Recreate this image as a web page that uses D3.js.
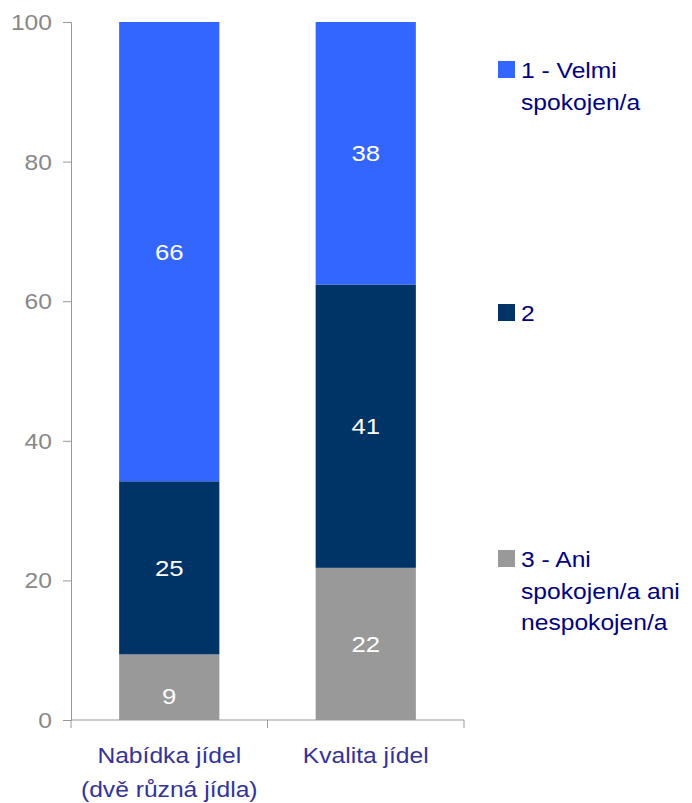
<!DOCTYPE html>
<html>
<head>
<meta charset="utf-8">
<script src="https://cdn.jsdelivr.net/npm/d3@7"></script>
<style>
  body { margin: 0; background: #fff; }
  text { font-family: "Liberation Sans", Arial, sans-serif; }
</style>
</head>
<body>
<div id="chart"></div>
<script>
var categories = [["Nabídka jídel", "(dvě různá jídla)"], ["Kvalita jídel"]];
var seriesNames = ["3 - Ani spokojen/a ani nespokojen/a", "2", "1 - Velmi spokojen/a"];
var series3 = [9.4, 21.8];
var series2 = [24.8, 40.6];
var series1 = [65.8, 37.6];
var seriesLabels = [[9, 22], [25, 41], [66, 38]];
var yTicks = [0, 20, 40, 60, 80, 100];
var legendLines = [["1 - Velmi", "spokojen/a"], ["2"], ["3 - Ani", "spokojen/a ani", "nespokojen/a"]];

var colors = ["#999999", "#003366", "#3366FF"];

var w = 692, h = 803;
var mLeft = 71, mRight = 464, mTop = 22, mBottom = 720;
var stretch = 1.12;
var fontSize = 22;

var svg = d3.select("#chart").append("svg")
    .attr("width", w)
    .attr("height", h);

// text drawn slightly wider than the font, like the original
function addText(parent, x, y, str, anchor, fill, size) {
    return parent.append("text")
        .attr("transform", "translate(" + x + "," + y + ") scale(" + stretch + ",1)")
        .attr("text-anchor", anchor)
        .attr("fill", fill)
        .attr("font-size", size || fontSize)
        .text(str);
}

var xScale = d3.scaleBand()
    .domain(d3.range(categories.length))
    .range([mLeft, mRight])
    .paddingInner(0.49)
    .paddingOuter(0.245);

var yScale = d3.scaleLinear()
    .domain([0, 100])
    .range([mBottom, mTop]);

var rows = categories.map(function(c, i) {
    return {i: i, s0: series3[i], s1: series2[i], s2: series1[i]};
});
var stacked = d3.stack().keys(["s0", "s1", "s2"])(rows);

// bars
stacked.forEach(function(layer, k) {
    var g = svg.append("g");
    g.selectAll("rect")
        .data(layer)
        .enter()
        .append("rect")
        .attr("x", function(d) { return xScale(d.data.i); })
        .attr("y", function(d) { return yScale(Math.min(100, d[1])); })
        .attr("width", xScale.bandwidth())
        .attr("height", function(d) { return yScale(d[0]) - yScale(Math.min(100, d[1])); })
        .attr("fill", colors[k]);

    layer.forEach(function(d, i) {
        var cx = xScale(d.data.i) + xScale.bandwidth() / 2;
        var cy = (yScale(d[0]) + yScale(Math.min(100, d[1]))) / 2 + 8;
        if (k == 0 && i == 0) cy += 9;  // small segment, label sits low
        addText(g, cx, cy, seriesLabels[k][i], "middle", "#fff", 23);
    });
});

// y axis
var yAxis = d3.axisLeft(yScale).tickValues(yTicks).tickSize(8).tickFormat("");
var ya = svg.append("g")
    .attr("transform", "translate(" + mLeft + ",0)")
    .call(yAxis);
ya.select(".domain").attr("stroke", "#999");
ya.selectAll(".tick line").attr("stroke", "#999");
yTicks.forEach(function(t) {
    addText(svg, 52, yScale(t) + 8, t, "end", "#888");
});

// x axis
svg.append("line")
    .attr("x1", mLeft).attr("x2", mRight)
    .attr("y1", mBottom).attr("y2", mBottom)
    .attr("stroke", "#999");
var xTicks = [mLeft, mLeft + (mRight - mLeft) / 2, mRight];
svg.selectAll(".xtick")
    .data(xTicks)
    .enter()
    .append("line")
    .attr("x1", function(d) { return d; })
    .attr("x2", function(d) { return d; })
    .attr("y1", mBottom)
    .attr("y2", mBottom + 8)
    .attr("stroke", "#999");

// category labels
categories.forEach(function(lines, i) {
    lines.forEach(function(line, j) {
        addText(svg, xScale(i) + xScale.bandwidth() / 2, 763 + j * 34, line, "middle", "#333399");
    });
});

// legend
var legendY = [61, 304, 550];
var legendColors = [colors[2], colors[1], colors[0]];
legendLines.forEach(function(lines, i) {
    svg.append("rect")
        .attr("x", 498)
        .attr("y", legendY[i])
        .attr("width", 17)
        .attr("height", 17)
        .attr("fill", legendColors[i]);
    lines.forEach(function(line, j) {
        addText(svg, 521, legendY[i] + 17 + j * 31.5, line, "start", "#000080");
    });
});
</script>
</body>
</html>
